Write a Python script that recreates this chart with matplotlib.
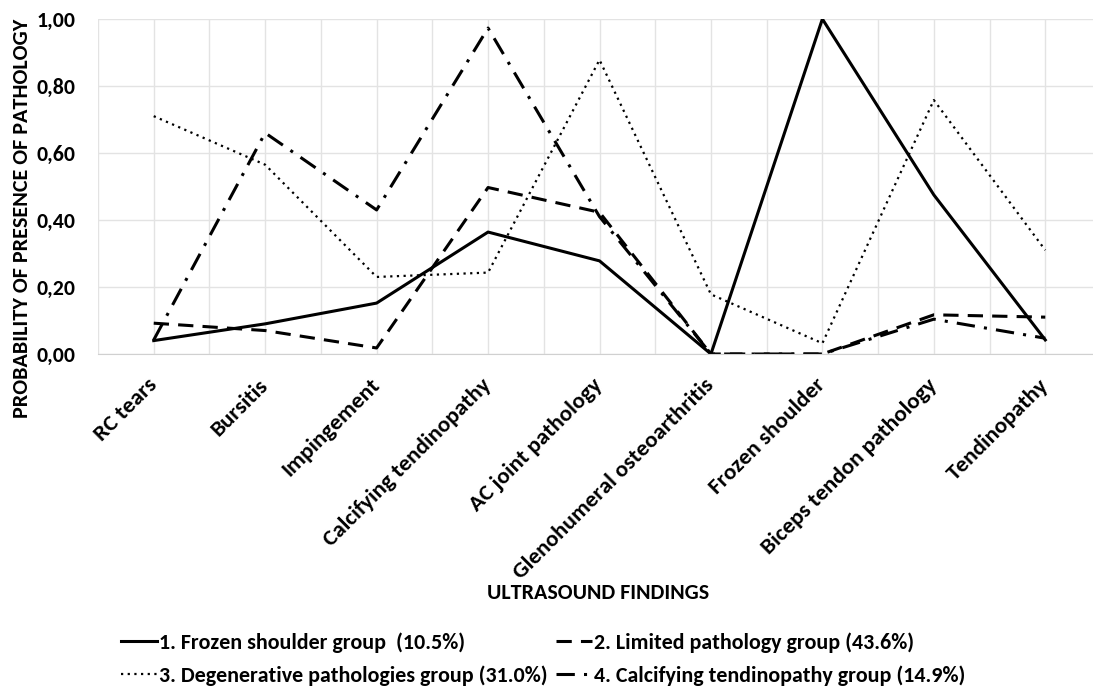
import matplotlib
matplotlib.use("Agg")
from matplotlib import pyplot as plt
from matplotlib import font_manager
from matplotlib.font_manager import FontProperties
from matplotlib.textpath import TextPath
from matplotlib.ticker import MultipleLocator, FuncFormatter

findings = ["RC tears", "Bursitis", "Impingement", "Calcifying tendinopathy",
            "AC joint pathology", "Glenohumeral osteoarthritis", "Frozen shoulder",
            "Biceps tendon pathology", "Tendinopathy"]

frozen = [0.04, 0.09, 0.152, 0.364, 0.278, 0.0, 1.0, 0.475, 0.042]
limited = [0.092, 0.07, 0.018, 0.497, 0.423, 0.0, 0.0, 0.117, 0.11]
degenerative = [0.71, 0.565, 0.23, 0.243, 0.878, 0.178, 0.032, 0.758, 0.31]
calcifying = [0.042, 0.66, 0.43, 0.973, 0.41, 0.0, 0.0, 0.104, 0.047]

group_labels = ["1. Frozen shoulder group  (10.5%)",
                "2. Limited pathology group (43.6%)",
                "3. Degenerative pathologies group (31.0%)",
                "4. Calcifying tendinopathy group (14.9%)"]

# pick a Calibri-like family that really has a bold face
bold_fams = {f.name for f in font_manager.fontManager.ttflist if f.weight >= 600}
FONT = 'DejaVu Sans'
for cand in ['Carlito', 'Lato', 'PT Sans', 'Fira Sans', 'Source Sans Pro',
             'Open Sans', 'Noto Sans', 'Liberation Sans']:
    if cand in bold_fams:
        FONT = cand
        break

plt.rcParams['font.family'] = [FONT, 'DejaVu Sans']
plt.rcParams['font.weight'] = 'bold'


def fit(text, px):
    # font size (pt) so that the text ink is about px pixels wide at 100 dpi
    tp = TextPath((0, 0), text, size=10, prop=FontProperties(family=FONT, weight='bold'))
    w = tp.get_extents().width * 100 / 72
    return 10 * px / w


fs_ytick = fit("1,00", 37)
fs_xtick = fit("Glenohumeral osteoarthritis", 272)
fs_ylab = fit("PROBABILITY OF PRESENCE OF PATHOLOGY", 398)
fs_xlab = fit("ULTRASOUND FINDINGS", 221)
fs_leg = fit(group_labels[2], 388)

fig = plt.figure(figsize=(10.93, 6.88), dpi=100)
ax = fig.add_axes([98 / 1093, 1 - 354 / 688, 1003 / 1093, 335 / 688])

x = list(range(len(findings)))
l1, = ax.plot(x, frozen, color='black', lw=2.2, ls='-')
l2, = ax.plot(x, limited, color='black', lw=2.2, ls=(0, (5, 3)))
l3, = ax.plot(x, degenerative, color='black', lw=1.6, ls=(0, (1, 2)))
l4, = ax.plot(x, calcifying, color='black', lw=2.2, ls=(0, (6, 3, 1, 3)))

ax.set_xlim(-0.5, 8.5)
ax.set_ylim(0, 1.0)
ax.yaxis.set_major_locator(MultipleLocator(0.2))
ax.yaxis.set_major_formatter(FuncFormatter(lambda v, p: f"{v:.2f}".replace('.', ',')))
ax.set_xticks(x)
ax.set_xticks([i - 0.5 for i in range(len(findings) + 1)], minor=True)
ax.set_xticklabels(findings, rotation=45, ha='right', va='center', rotation_mode='anchor',
                   fontsize=fs_xtick, fontweight='bold')
ax.tick_params(axis='y', labelsize=fs_ytick, length=0, pad=16)
ax.tick_params(axis='x', which='both', length=0, pad=20)
for lab in ax.get_yticklabels():
    lab.set_fontweight('bold')

ax.grid(True, which='both', color='#e3e3e3', lw=1)
ax.set_axisbelow(True)
for s in ['top', 'right', 'left']:
    ax.spines[s].set_visible(False)
ax.spines['bottom'].set_color('#d0d0d0')

fig.text(22 / 1093, 1 - 218 / 688, "PROBABILITY OF PRESENCE OF PATHOLOGY", rotation=90,
         fontsize=fs_ylab, fontweight='bold', ha='center', va='center')
fig.text(598 / 1093, 1 - 593 / 688, "ULTRASOUND FINDINGS", fontsize=fs_xlab,
         fontweight='bold', ha='center', va='center')

fs_px = fs_leg * 100 / 72
fig.legend([l1, l3, l2, l4], [group_labels[0], group_labels[2], group_labels[1], group_labels[3]],
           loc='upper left', bbox_to_anchor=(121 / 1093, 1 - 632 / 688), ncol=2, frameon=False,
           prop={'size': fs_leg, 'weight': 'bold'}, handlelength=36 / fs_px,
           handletextpad=2 / fs_px, columnspacing=8 / fs_px, labelspacing=(35 - fs_px) / fs_px,
           borderpad=0, borderaxespad=0)

fig.savefig("out.png", dpi=100)
